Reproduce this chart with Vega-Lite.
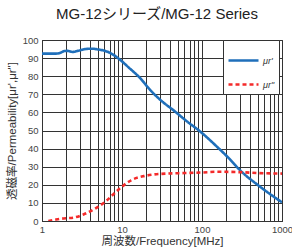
{
  "$schema": "https://vega.github.io/schema/vega-lite/v6.json",
  "autosize": {"type": "none"},
  "width": 240,
  "height": 181,
  "padding": {"left": 42, "top": 40, "right": 10, "bottom": 29},
  "background": "white",
  "title": {"text": "MG-12シリーズ/MG-12 Series", "font": "Liberation Sans, Noto Sans CJK JP", "fontSize": 15, "fontWeight": "normal", "color": "#222", "anchor": "middle", "dx": -5, "offset": 13},
  "config": {
    "view": {"stroke": "#333", "strokeWidth": 1},
    "font": "Liberation Sans, Noto Sans CJK JP"
  },
  "data": {"values": [
    {"f": 1, "v": 92.5, "s": "μr'"},
    {"f": 1.5, "v": 92.5, "s": "μr'"},
    {"f": 1.7, "v": 92.9, "s": "μr'"},
    {"f": 1.9, "v": 93.9, "s": "μr'"},
    {"f": 2.1, "v": 94, "s": "μr'"},
    {"f": 2.4, "v": 93.4, "s": "μr'"},
    {"f": 2.8, "v": 94, "s": "μr'"},
    {"f": 3.5, "v": 95, "s": "μr'"},
    {"f": 4.2, "v": 95.2, "s": "μr'"},
    {"f": 5, "v": 94.8, "s": "μr'"},
    {"f": 6, "v": 94.1, "s": "μr'"},
    {"f": 7, "v": 93, "s": "μr'"},
    {"f": 8, "v": 91.5, "s": "μr'"},
    {"f": 9.4, "v": 89.2, "s": "μr'"},
    {"f": 12, "v": 85, "s": "μr'"},
    {"f": 16.8, "v": 79, "s": "μr'"},
    {"f": 22.4, "v": 72.5, "s": "μr'"},
    {"f": 30, "v": 67, "s": "μr'"},
    {"f": 46, "v": 60.5, "s": "μr'"},
    {"f": 65, "v": 55, "s": "μr'"},
    {"f": 94, "v": 49.6, "s": "μr'"},
    {"f": 150, "v": 41.5, "s": "μr'"},
    {"f": 224, "v": 34, "s": "μr'"},
    {"f": 300, "v": 28, "s": "μr'"},
    {"f": 530, "v": 19, "s": "μr'"},
    {"f": 1000, "v": 10.3, "s": "μr'"},
    {"f": 1.2, "v": 0, "s": "μr\""},
    {"f": 1.5, "v": 0.8, "s": "μr\""},
    {"f": 1.85, "v": 1.4, "s": "μr\""},
    {"f": 2.5, "v": 1.9, "s": "μr\""},
    {"f": 3.3, "v": 3.6, "s": "μr\""},
    {"f": 4.8, "v": 7.3, "s": "μr\""},
    {"f": 6.4, "v": 11.2, "s": "μr\""},
    {"f": 8, "v": 15.2, "s": "μr\""},
    {"f": 10, "v": 19, "s": "μr\""},
    {"f": 13, "v": 22.5, "s": "μr\""},
    {"f": 18.7, "v": 24.8, "s": "μr\""},
    {"f": 25, "v": 25.7, "s": "μr\""},
    {"f": 36, "v": 26.2, "s": "μr\""},
    {"f": 60, "v": 26.5, "s": "μr\""},
    {"f": 100, "v": 26.8, "s": "μr\""},
    {"f": 152, "v": 27.2, "s": "μr\""},
    {"f": 300, "v": 27, "s": "μr\""},
    {"f": 500, "v": 26.5, "s": "μr\""},
    {"f": 1000, "v": 26.2, "s": "μr\""}
  ]},
  "mark": {"type": "line", "strokeWidth": 2.6, "interpolate": "monotone", "clip": true},
  "encoding": {
    "x": {
      "field": "f", "type": "quantitative",
      "scale": {"type": "log", "domain": [1, 1000], "nice": false},
      "axis": {
        "title": "周波数/Frequency[MHz]",
        "values": [1,2,3,4,5,6,7,8,9,10,20,30,40,50,60,70,80,90,100,200,300,400,500,600,700,800,900,1000],
        "labelExpr": "(datum.value == 1 || datum.value == 10 || datum.value == 100 || datum.value == 1000) ? datum.value + '' : ''",
        "grid": true, "gridColor": "#333", "gridOpacity": 1, "gridWidth": 1,
        "domain": true, "domainColor": "#333",
        "ticks": false,
        "labelFontSize": 9.5, "labelColor": "#444", "labelPadding": 3, "labelFlush": false,
        "titleFontSize": 11.5, "titleFontWeight": "normal", "titleColor": "#333", "titlePadding": 2
      }
    },
    "y": {
      "field": "v", "type": "quantitative",
      "scale": {"domain": [0, 100], "nice": false},
      "axis": {
        "title": "透磁率/Permeability[μr',μr\"]",
        "values": [0,10,20,30,40,50,60,70,80,90,100],
        "grid": true, "gridColor": "#333", "gridOpacity": 1, "gridWidth": 1,
        "domain": true, "domainColor": "#333",
        "ticks": false,
        "labelFontSize": 9.5, "labelColor": "#444", "labelPadding": 4,
        "titleFontSize": 11.5, "titleFontWeight": "normal", "titleColor": "#333", "titlePadding": 5
      }
    },
    "color": {
      "field": "s", "type": "nominal",
      "scale": {"domain": ["μr'", "μr\""], "range": ["#1f6fba", "#f42a2a"]},
      "legend": {
        "title": null, "orient": "none", "legendX": 181, "legendY": 0,
        "symbolType": "stroke", "symbolSize": 900, "symbolStrokeWidth": 2.6,
        "strokeColor": "#333", "fillColor": "white", "padding": 4,
        "labelFontSize": 9, "labelFontStyle": "italic", "labelColor": "#333", "labelOffset": 3, "rowPadding": 2
      }
    },
    "strokeDash": {
      "field": "s", "type": "nominal",
      "scale": {"domain": ["μr'", "μr\""], "range": [[1, 0], [4, 3]]},
      "legend": {
        "title": null, "orient": "none", "legendX": 181, "legendY": 0,
        "symbolType": "stroke", "symbolSize": 900, "symbolStrokeWidth": 2.6,
        "strokeColor": "#333", "fillColor": "white", "padding": 4,
        "labelFontSize": 9, "labelFontStyle": "italic", "labelColor": "#333", "labelOffset": 3, "rowPadding": 2
      }
    }
  }
}
